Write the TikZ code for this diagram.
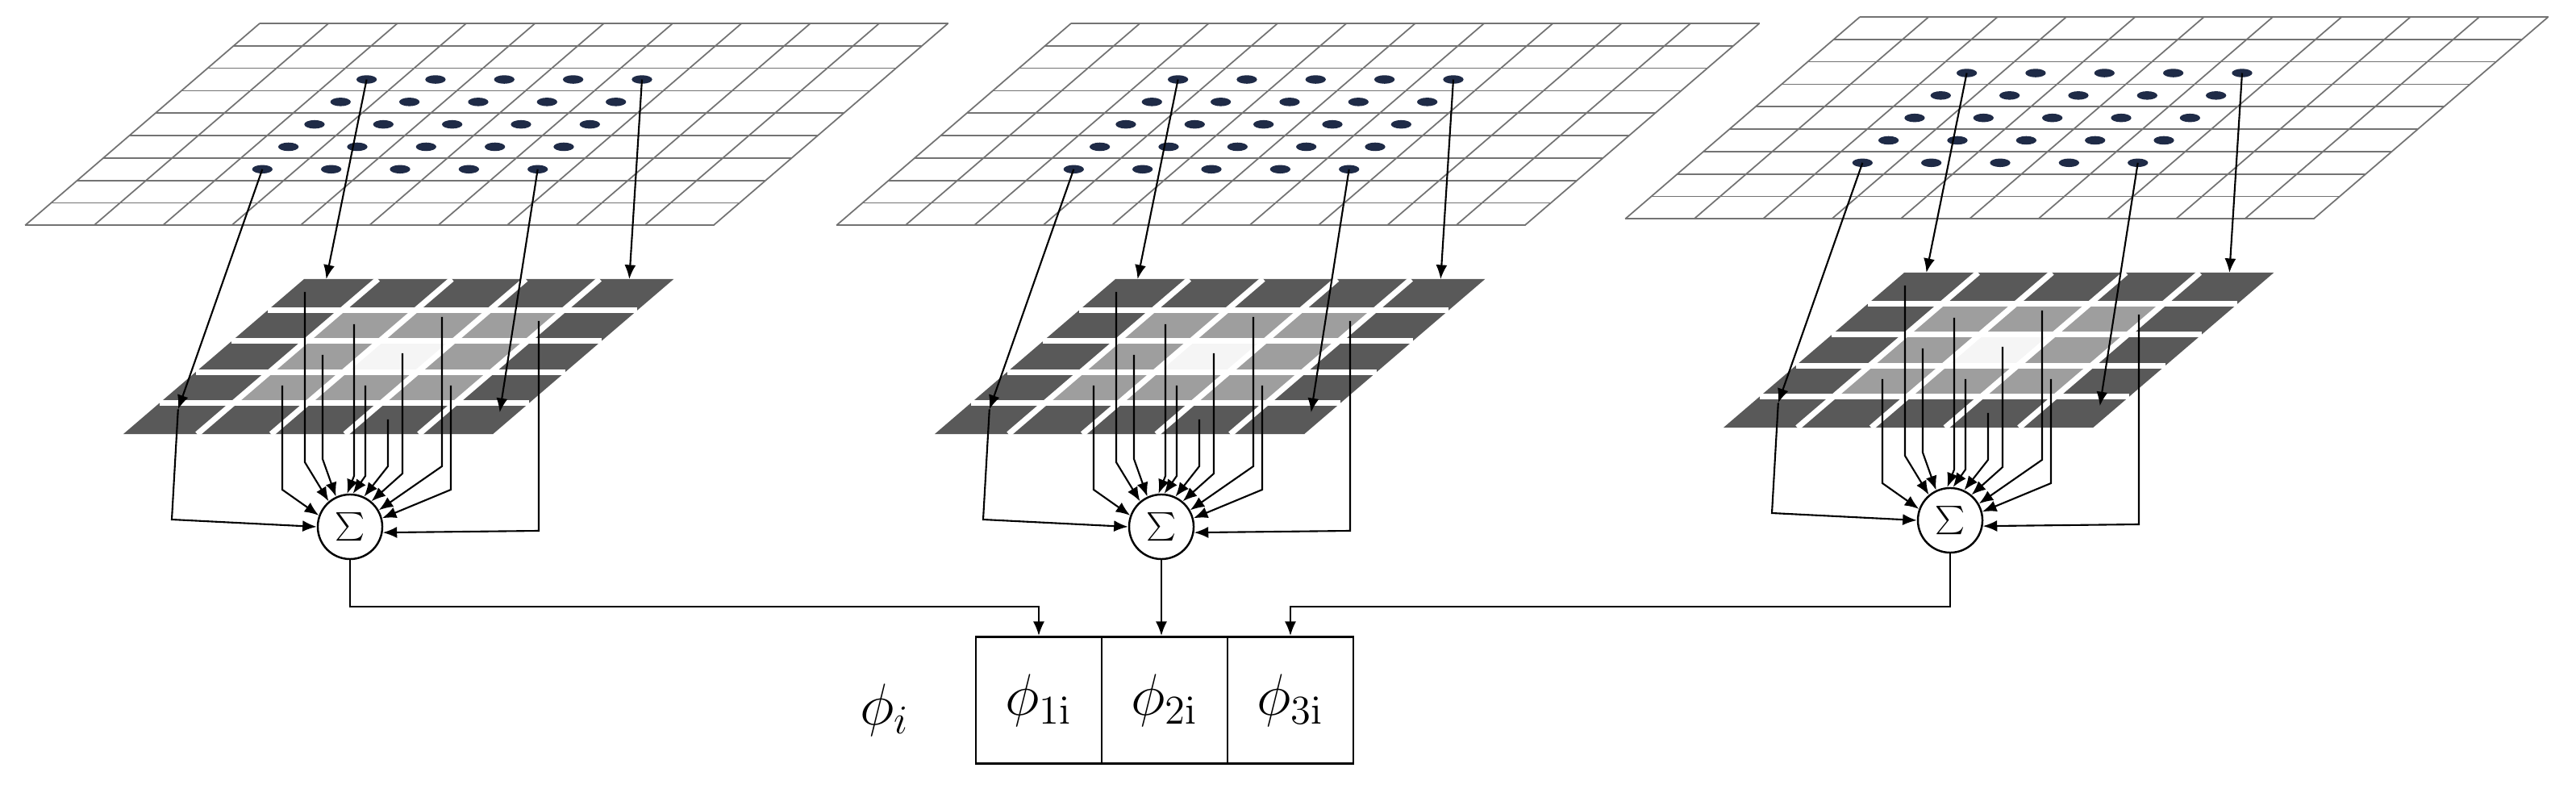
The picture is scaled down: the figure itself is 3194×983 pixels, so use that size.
\documentclass[tikz,border=0pt]{standalone}
\usetikzlibrary{arrows.meta}
\tikzset{
  gridline/.style={draw=black!55, line width=0.5pt},
  dotc/.style={fill={rgb,1:red,0.12;green,0.17;blue,0.28}},
  arr/.style={draw=black, line width=0.6pt, -{Latex[length=5pt,width=4pt]}},
  wire/.style={draw=black, line width=0.6pt},
  sumnode/.style={circle, draw, line width=0.7pt, minimum size=0.8cm, inner sep=0pt, fill=white, font=\fontsize{20}{20}\selectfont},
  cellbox/.style={draw, line width=0.8pt, minimum width=1.56cm, minimum height=1.57cm, inner sep=0pt, font=\fontsize{22}{26}\selectfont}
}
\newcommand\drawpanel[3]{%
\begin{scope}[shift={(#2,#3)}]
  % top grid
  \begin{scope}[shift={(322,29)}, x={(0.853cm,0cm)}, y={(-0.323cm,-0.278cm)}]
    \foreach \v in {0,...,9} \draw[gridline] (0,\v) -- (10,\v);
    \foreach \u in {0,...,10} \draw[gridline] (\u,0) -- (\u,9);
    \foreach \u in {2.5,3.5,...,6.5} \foreach \v in {2.5,3.5,...,6.5}
      \fill[dotc] (\u,\v) ellipse [x radius=3.6pt, y radius=1.5pt];
    \coordinate (#1a) at (2.5,2.5);
    \coordinate (#1b) at (6.5,2.5);
    \coordinate (#1c) at (2.5,6.5);
    \coordinate (#1d) at (6.5,6.5);
  \end{scope}
  % bottom grid
  \begin{scope}[shift={(377,346)}, x={(0.916cm,0cm)}, y={(-0.448cm,-0.384cm)}]
    \fill[black!65] (0,0) -- (5,0) -- (5,5) -- (0,5) -- cycle;
    \fill[black!38] (1,1) -- (4,1) -- (4,4) -- (1,4) -- cycle;
    \fill[black!4] (2,2) -- (3,2) -- (3,3) -- (2,3) -- cycle;
    \foreach \k in {1,...,4} {
      \draw[white, line width=2pt] (0,\k) -- (5,\k);
      \draw[white, line width=2pt] (\k,0) -- (\k,5);
    }
    \coordinate (#1A) at (0.3,0);
    \coordinate (#1B) at (4.4,0);
    \coordinate (#1C) at (0.35,4.2);
    \coordinate (#1D) at (4.75,4.3);
  \end{scope}
  \draw[arr] (#1a) -- (#1A);
  \draw[arr] (#1b) -- (#1B);
  \draw[arr] (#1c) -- (#1C);
  \draw[arr] (#1d) -- (#1D);
  \node[sumnode] (#1s) at (434,653) {$\sum$};
  % outer lines
  \coordinate (#1L) at (213,644);
  \coordinate (#1R0) at (668,398);
  \coordinate (#1R) at (668,658);
  \draw[arr] (#1C) -- (#1L) -- (#1s.west);
  \draw[arr] (#1R0) -- (#1R) -- (#1s.-10);
  \foreach \x/\ys/\yb/\ang [count=\n] in {350/478/607/160, 378/362/573/130, 400/440/569/115,
      439/402/590/95, 453/478/590/85, 481/520/578/65, 499/438/587/50, 548/393/578/30, 559/478/607/15} {
    \coordinate (#1p\n) at (\x,\ys);
    \coordinate (#1q\n) at (\x,\yb);
    \draw[arr] (#1p\n) -- (#1q\n) -- (#1s.\ang);
  }
\end{scope}}
\begin{document}
\begin{tikzpicture}[x=0.01cm, y=-0.01cm]
  \useasboundingbox (0,0) rectangle (3194,983);
  \drawpanel{1}{0}{0}
  \drawpanel{2}{1006}{0}
  \drawpanel{3}{1984}{-8}
  % output
  \node[cellbox] (o1) at (1288,868) {$\phi_{\mathrm{1i}}$};
  \node[cellbox] (o2) at (1444,868) {$\phi_{\mathrm{2i}}$};
  \node[cellbox] (o3) at (1600,868) {$\phi_{\mathrm{3i}}$};
  \node[font=\fontsize{22}{26}\selectfont] (phi) at (1097,880) {$\phi_i$};
  \coordinate (j1) at (434,752);
  \coordinate (j3) at (2418,752);
  \draw[arr] (1s.south) -- (j1) -| (o1.north);
  \draw[arr] (2s.south) -- (2s.south |- o2.north);
  \draw[arr] (3s.south) -- (j3) -| (o3.north);
\end{tikzpicture}
\end{document}
